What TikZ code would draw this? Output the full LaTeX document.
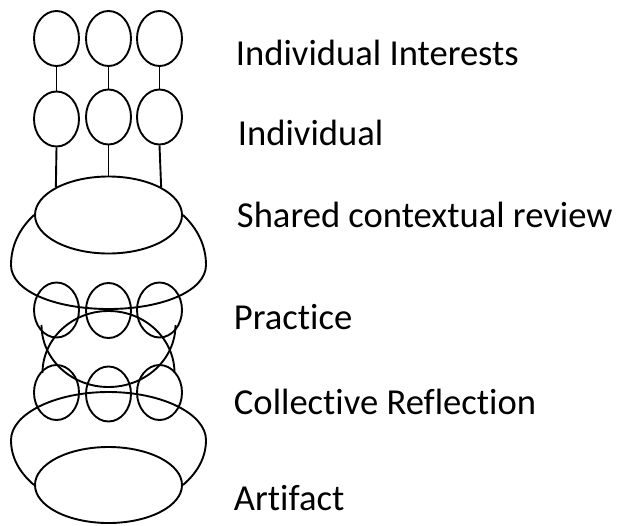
\documentclass[tikz,border=0pt]{standalone}
\usepackage{fontspec}
\setmainfont{Carlito}[Ligatures=NoCommon]
\usetikzlibrary{shapes.geometric}
\begin{document}
\begin{tikzpicture}[x=1pt,y=-1pt,
  line width=1.9pt,
  small/.style={draw,ellipse,inner sep=0pt,minimum width=45pt,minimum height=55pt},
  big/.style={draw,ellipse,inner sep=0pt,minimum width=147pt,minimum height=77pt},
  lbl/.style={anchor=base west,inner sep=0pt,font=\fontsize{36.6}{44}\selectfont}]
\useasboundingbox (0,0) rectangle (623,525);
% individual interests
\node[small] (t1) at (56.5,38.5) {};
\node[small] (t2) at (108.5,38.5) {};
\node[small] (t3) at (159.5,38.5) {};
% individual
\node[small] (m1) at (56.5,119) {};
\node[small] (m2) at (108.5,117) {};
\node[small] (m3) at (159.5,117) {};
% shared contextual review
\node[big] (e1) at (108.5,215) {};
% practice
\node[small] (p1) at (56.5,310) {};
\node[small] (p2) at (108.5,310.5) {};
\node[small] (p3) at (159.5,310) {};
% collective reflection
\node[small] (c1) at (56.5,392.5) {};
\node[small] (c2) at (108.5,394) {};
\node[small] (c3) at (159.5,392.5) {};
% artifact
\node[big,minimum height=76pt] (e2) at (108.5,485) {};
% connectors
\draw (t1.south) -- (m1.north);
\draw (t2.south) -- (m2.north);
\draw (t3.south) -- (m3.north);
\draw (m1.south) -- (e1.north west);
\draw (m2.south) -- (e1.north);
\draw (m3.south) -- (e1.north east);
% outer shapes
\draw (e1.west) .. controls (20,228) and (11,245) .. (11,265)
  .. controls (11,291) and (54.7,309) .. (108.5,309)
  .. controls (162.3,309) and (206,291) .. (206,265)
  .. controls (206,245) and (197,228) .. (e1.east);
\draw (e2.west) .. controls (20,473) and (11,458) .. (11,440)
  .. controls (11,414) and (54.7,392) .. (108.5,392)
  .. controls (162.3,392) and (206,414) .. (206,440)
  .. controls (206,458) and (197,473) .. (e2.east);
% practice arcs
\coordinate (bl) at (41.5,325);
\coordinate (br) at (175.5,325);
\coordinate (al) at (42.5,373);
\coordinate (ar) at (174.5,373);
\draw (bl) .. controls (41.5,359.2) and (71.5,387) .. (108.5,387)
  .. controls (145.5,387) and (175.5,359.2) .. (br);
\draw (al) .. controls (42.5,338.8) and (72,311) .. (108.5,311)
  .. controls (145,311) and (174.5,338.8) .. (ar);
% labels
\node[lbl] (l1) at (235,65) {Individual Interests};
\node[lbl] (l2) at (237,145) {Individual};
\node[lbl] (l3) at (236,227) {Shared contextual review};
\node[lbl] (l4) at (233,329) {Practice};
\node[lbl] (l5) at (233,414) {Collective Reflection};
\node[lbl] (l6) at (233,510) {Artifact};
\end{tikzpicture}
\end{document}
